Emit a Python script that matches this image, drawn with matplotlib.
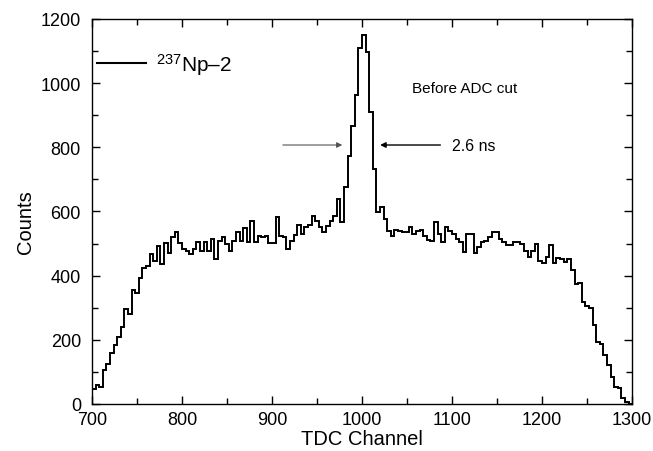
import numpy as np
import matplotlib
matplotlib.use("Agg")
import matplotlib.pyplot as plt
from matplotlib.lines import Line2D
from matplotlib.ticker import MultipleLocator

plt.rcParams["font.family"] = ["Liberation Sans", "DejaVu Sans"]
plt.rcParams["mathtext.fontset"] = "custom"
plt.rcParams["mathtext.rm"] = "Liberation Sans"
plt.rcParams["mathtext.default"] = "regular"

# TDC spectrum, 4-channel bins from 700 to 1300
bin_start = 700
bin_width = 4
counts = [
    47, 59, 54, 106, 125, 160, 183, 210, 239, 295,
    279, 355, 345, 394, 423, 431, 466, 447, 491, 436,
    501, 470, 520, 537, 501, 483, 478, 467, 483, 504,
    478, 504, 478, 514, 452, 509, 519, 499, 478, 509,
    535, 509, 547, 506, 571, 506, 525, 519, 525, 501,
    501, 582, 525, 519, 483, 509, 527, 558, 530, 551,
    558, 587, 571, 551, 535, 556, 571, 587, 639, 566,
    675, 774, 865, 963, 1108, 1151, 1096, 909, 732, 597,
    613, 575, 540, 525, 543, 540, 537, 535, 551, 530,
    540, 543, 523, 512, 509, 568, 530, 504, 551, 540,
    530, 514, 506, 473, 530, 530, 471, 488, 504, 509,
    519, 535, 537, 514, 504, 496, 494, 504, 506, 500,
    478, 457, 478, 499, 446, 439, 457, 496, 439, 454,
    451, 444, 451, 418, 373, 377, 319, 304, 298, 246,
    194, 186, 153, 122, 85, 54, 51, 18, 5, 0,
]
edges = bin_start + bin_width * np.arange(len(counts) + 1)

# FWHM marker arrows (channel, counts)
fwhm_level = 807
left_arrow = (912, 978)
right_arrow = (1087, 1020)

fig = plt.figure(figsize=(6.53, 4.52), dpi=100)
ax = fig.add_axes([0.141, 0.104, 0.827, 0.852])

ax.stairs(counts, edges, color="black", lw=1.4, baseline=0)

ax.set_xlim(700, 1300)
ax.set_ylim(0, 1200)
ax.xaxis.set_major_locator(MultipleLocator(100))
ax.xaxis.set_minor_locator(MultipleLocator(50))
ax.yaxis.set_major_locator(MultipleLocator(200))
ax.yaxis.set_minor_locator(MultipleLocator(100))
ax.tick_params(which="both", direction="in", top=True, right=True, width=1.0)
ax.tick_params(which="major", length=6, labelsize=13)
ax.tick_params(which="minor", length=4)
ax.tick_params(axis="x", pad=5)
ax.tick_params(axis="y", pad=8)
for s in ax.spines.values():
    s.set_linewidth(1.0)

ax.set_xlabel("TDC Channel", fontsize=14.5, labelpad=1)
ax.set_ylabel("Counts", fontsize=14.5)
ax.yaxis.set_label_coords(-0.105, 0.475)

ax.annotate("", xy=(left_arrow[1], fwhm_level), xytext=(left_arrow[0], fwhm_level),
            arrowprops=dict(arrowstyle="-|>", color="#555555", lw=0.8,
                            mutation_scale=8, shrinkA=0, shrinkB=0))
ax.annotate("", xy=(right_arrow[1], fwhm_level), xytext=(right_arrow[0], fwhm_level),
            arrowprops=dict(arrowstyle="-|>", color="black", lw=1.0,
                            mutation_scale=8, shrinkA=0, shrinkB=0))
ax.text(1100, fwhm_level, "2.6 ns", fontsize=11.5, va="center", ha="left")
ax.text(1056, 985, "Before ADC cut", fontsize=11, va="center", ha="left")

handle = Line2D([], [], color="black", lw=1.5)
ax.legend([handle], ["$^{237}$Np\u20132"], loc="upper left",
          bbox_to_anchor=(-0.017, 0.955), frameon=False, fontsize=15,
          handlelength=2.35, handletextpad=0.45, borderaxespad=0.3)

fig.savefig("out.png", dpi=100)
